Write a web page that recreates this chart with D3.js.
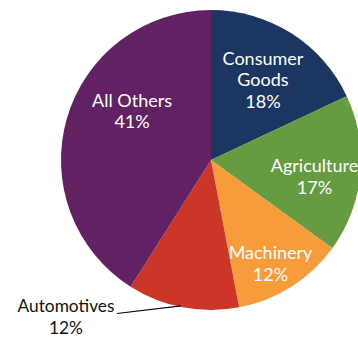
<!DOCTYPE html>
<html>
<head>
<meta charset="utf-8">
<script src="https://cdn.jsdelivr.net/npm/d3@7"></script>
<style>
  html, body { margin: 0; padding: 0; background: #fff; }
  svg { display: block; }
</style>
</head>
<body>
<svg id="chart" width="358" height="337"></svg>
<script>
const categories = ["Consumer Goods", "Agriculture", "Machinery", "Automotives", "All Others"];
const labelLines = [["Consumer", "Goods"], ["Agriculture"], ["Machinery"], ["Automotives"], ["All Others"]];
const values = [18, 17, 12, 12, 41];
const percentLabels = ["18%", "17%", "12%", "12%", "41%"];
const colors = ["#1b3661", "#659c41", "#f79c3a", "#cb3628", "#622162"];

const svg = d3.select("#chart");
const cx = 211, cy = 160, R = 150;
const g = svg.append("g").attr("transform", `translate(${cx},${cy})`);

const pie = d3.pie().sort(null).value(d => d.value).startAngle(0).endAngle(2 * Math.PI);
const data = categories.map((c, i) => ({ name: c, value: values[i], lines: labelLines[i], pct: percentLabels[i], color: colors[i] }));
const arcs = pie(data);
const arc = d3.arc().innerRadius(0).outerRadius(R);

g.selectAll("path.slice").data(arcs).enter().append("path")
  .attr("class", "slice")
  .attr("d", arc)
  .attr("fill", d => d.data.color);

// label placement: radius & angle offset (degrees) from the slice midpoint
const labelPlace = {
  "Consumer Goods": { r: 95.4, da: 0.6 },
  "Agriculture": { r: 104.8, da: 3.7 },
  "Machinery": { r: 119.4, da: 2.5 },
  "All Others": { r: 92.7, da: 15.4 }
};
const fontFamily = "Lato, 'Open Sans', sans-serif";
const fs = 18, lh = 21.5;

arcs.forEach(a => {
  const d = a.data;
  if (d.name === "Automotives") return;
  const p = labelPlace[d.name];
  const mid = (a.startAngle + a.endAngle) / 2 + p.da * Math.PI / 180;
  const x = p.r * Math.sin(mid), y = -p.r * Math.cos(mid);
  const lines = d.lines.concat([d.pct]);
  const t = g.append("text")
    .attr("text-anchor", "middle")
    .attr("fill", "#fff")
    .attr("font-family", fontFamily)
    .attr("font-size", fs);
  const y0 = y - (lines.length - 1) * lh / 2 + fs * 0.35;
  lines.forEach((ln, i) => {
    t.append("tspan").attr("x", x).attr("y", y0 + i * lh).text(ln);
  });
});

// Automotives outside label with leader line
const auto = arcs[3];
const autoMid = auto.startAngle + (auto.endAngle - auto.startAngle) * 0.52;
const edge = [ (R - 1) * Math.sin(autoMid), -(R - 1) * Math.cos(autoMid) ];
const lineEnd = [117 - cx, 313.5 - cy];
g.append("line")
  .attr("x1", lineEnd[0]).attr("y1", lineEnd[1])
  .attr("x2", edge[0]).attr("y2", edge[1])
  .attr("stroke", "#000").attr("stroke-width", 1.2);
const at = svg.append("text")
  .attr("text-anchor", "middle")
  .attr("fill", "#111")
  .attr("font-family", fontFamily)
  .attr("font-size", 17.3);
at.append("tspan").attr("x", 66).attr("y", 312).text(auto.data.lines[0]);
at.append("tspan").attr("x", 66).attr("y", 334).text(auto.data.pct);
</script>
</body>
</html>
